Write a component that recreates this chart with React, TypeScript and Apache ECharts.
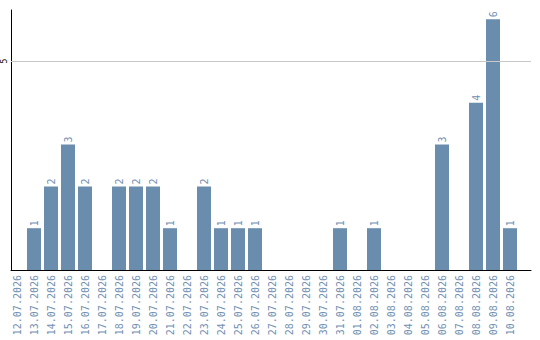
import React, { useEffect, useRef } from "react";
import * as echarts from "echarts";

const categories = [
  "12.07.2026", "13.07.2026", "14.07.2026", "15.07.2026", "16.07.2026",
  "17.07.2026", "18.07.2026", "19.07.2026", "20.07.2026", "21.07.2026",
  "22.07.2026", "23.07.2026", "24.07.2026", "25.07.2026", "26.07.2026",
  "27.07.2026", "28.07.2026", "29.07.2026", "30.07.2026", "31.07.2026",
  "01.08.2026", "02.08.2026", "03.08.2026", "04.08.2026", "05.08.2026",
  "06.08.2026", "07.08.2026", "08.08.2026", "09.08.2026", "10.08.2026",
];

const counts = [
  0, 1, 2, 3, 2,
  0, 2, 2, 2, 1,
  0, 2, 1, 1, 1,
  0, 0, 0, 0, 1,
  0, 1, 0, 0, 0,
  3, 0, 4, 6, 1,
];

const yTicks = [5];

const BAR = "#6a8cad";
const TEXT = "#6f8fb2";
const MONO = "DejaVu Sans Mono";
const Y_MAX = 6.22;

export default function App() {
  const ref = useRef<HTMLDivElement>(null);

  useEffect(() => {
    if (!ref.current) return;
    const chart = echarts.init(ref.current, null, { renderer: "svg" });
    chart.setOption({
      animation: false,
      grid: [
        // frame: axis lines and the reference line
        { left: 10, right: 9, top: 10, bottom: 70 },
        // bars and date labels, 17px per day
        { left: 8.5, right: 21.5, top: 10, bottom: 70 },
      ],
      xAxis: [
        {
          gridIndex: 0,
          type: "category",
          data: categories,
          axisLine: { show: true, lineStyle: { color: "#000", width: 1 } },
          axisTick: { show: false },
          axisLabel: { show: false },
        },
        {
          gridIndex: 1,
          type: "category",
          data: categories,
          axisLine: { show: false },
          axisTick: { show: false },
          axisLabel: {
            interval: 0,
            rotate: 90,
            margin: 5,
            color: TEXT,
            fontFamily: MONO,
            fontSize: 10,
          },
        },
      ],
      yAxis: [
        {
          gridIndex: 0,
          type: "value",
          min: 0,
          max: Y_MAX,
          interval: 5,
          axisLine: { show: true, lineStyle: { color: "#000", width: 1 } },
          axisTick: { show: false },
          splitLine: { show: false },
          axisLabel: {
            rotate: 90,
            margin: 3,
            color: "#000",
            fontFamily: MONO,
            fontSize: 8,
            showMaxLabel: false,
            formatter: (v: number) => (yTicks.includes(v) ? String(v) : ""),
          },
        },
        {
          gridIndex: 1,
          type: "value",
          min: 0,
          max: Y_MAX,
          interval: 5,
          axisLine: { show: false },
          axisTick: { show: false },
          splitLine: { show: false },
          axisLabel: { show: false },
        },
      ],
      series: [
        {
          type: "bar",
          xAxisIndex: 0,
          yAxisIndex: 0,
          data: [],
          markLine: {
            silent: true,
            symbol: "none",
            label: { show: false },
            lineStyle: { color: "#c8c8c8", type: "solid", width: 1 },
            data: yTicks.map((t) => ({ yAxis: t })),
          },
        },
        {
          type: "bar",
          xAxisIndex: 1,
          yAxisIndex: 1,
          data: counts,
          barWidth: 14,
          itemStyle: { color: BAR },
          label: {
            show: true,
            position: "top",
            rotate: 90,
            align: "left",
            verticalAlign: "middle",
            distance: 2,
            color: TEXT,
            fontFamily: MONO,
            fontSize: 10,
            formatter: (p: any) => (p.value > 0 ? String(p.value) : ""),
          },
        },
      ],
    });
    return () => chart.dispose();
  }, []);

  return (
    <div
      ref={ref}
      style={{ position: "absolute", left: 0, top: 0, width: 540, height: 340 }}
    />
  );
}
